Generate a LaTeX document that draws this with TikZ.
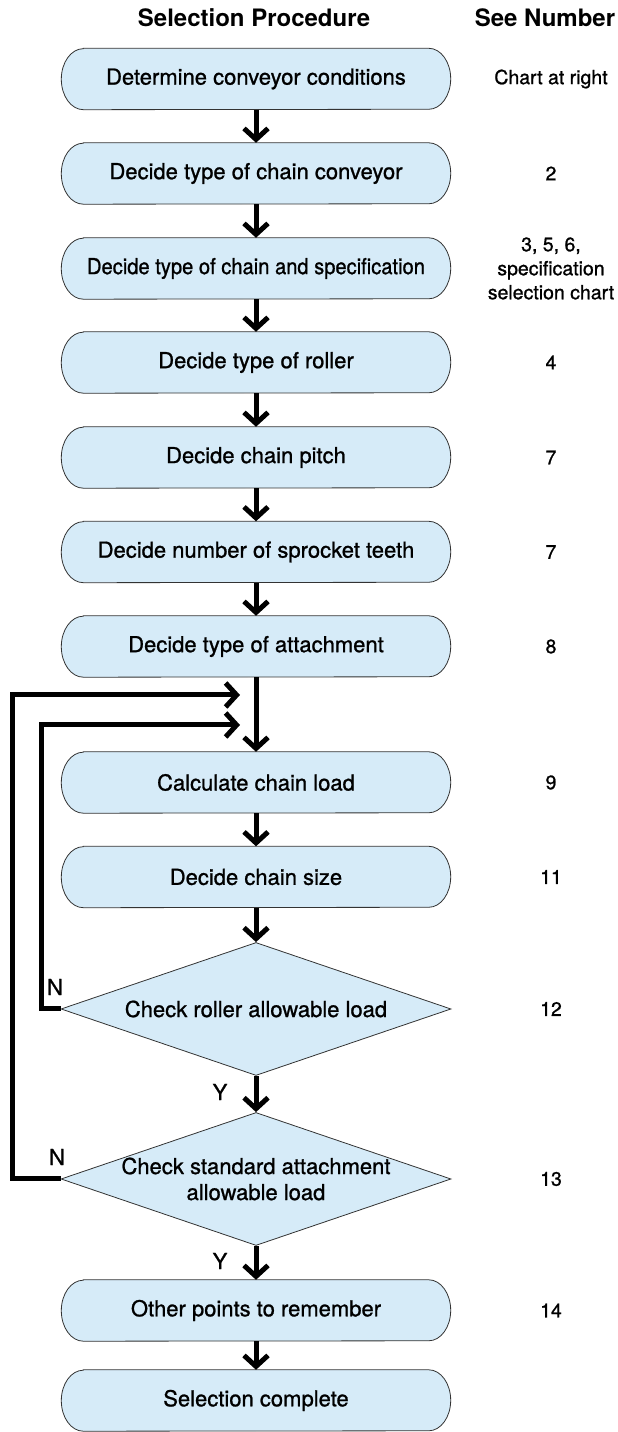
\documentclass[tikz,border=0pt]{standalone}
\usepackage{fontspec}
\setmainfont{TeX Gyre Heros}
\newfontfamily\medfont[FakeBold=1.0]{TeX Gyre Heros}
\usetikzlibrary{shapes.geometric,arrows.meta,backgrounds}

\begin{document}
\begin{tikzpicture}[x=1pt,y=1pt,
  procbox/.style={minimum width=389pt,minimum height=61pt,inner sep=0pt,font=\medfont\fontsize{22}{26}\selectfont},
  checkbox/.style={draw=lineColor,fill=boxColor,line width=0.8pt,diamond,aspect=2.93,
    minimum width=390pt,minimum height=133pt,inner xsep=-8pt,inner ysep=0pt,align=center,font=\medfont\fontsize{22}{26}\selectfont},
  headtext/.style={font=\bfseries\fontsize{24}{28}\selectfont},
  seeno/.style={align=center,font=\medfont\fontsize{19.5}{24}\selectfont},
  yntext/.style={font=\medfont\fontsize{22}{26}\selectfont},
  flow/.style={line width=5pt,-{Straight Barb[length=11pt,width=24pt]}},
  loopline/.style={line width=5pt,line join=miter,-{Straight Barb[length=11pt,width=24pt]}}]
\definecolor{boxColor}{RGB}{214,235,248}
\definecolor{lineColor}{gray}{0.2}
\path[use as bounding box] (0,0) rectangle (618,1432);

% column heads
\node[headtext] (headproc) at (254,1414) {Selection Procedure};
\node[headtext] (headsee) at (545,1414) {See Number};

% procedure boxes
\node[procbox] (cond) at (256,1353) {Determine conveyor conditions};
\node[procbox] (conv) at (256,1258.5) {Decide type of chain conveyor};
\node[procbox] (spec) at (256,1163.5) {\scalebox{0.915}[1]{Decide type of chain and specification}};
\node[procbox] (roll) at (256,1069.5) {Decide type of roller};
\node[procbox] (pitch) at (256,974.5) {Decide chain pitch};
\node[procbox] (teeth) at (256,880) {Decide number of sprocket teeth};
\node[procbox] (att) at (256,785.5) {Decide type of attachment};
\node[procbox] (load) at (256,649.5) {Calculate chain load};
\node[procbox] (size) at (256,555) {Decide chain size};
\node[checkbox] (chkroll) at (256,423) {Check roller allowable load};
\node[checkbox] (chkatt) at (256,253) {Check standard attachment\\allowable load};
\node[procbox] (other) at (256,121.5) {Other points to remember};
\node[procbox] (done) at (256,31.5) {Selection complete};

% box outlines with elliptic ends
\begin{pgfonlayer}{background}
\foreach \b in {cond,conv,spec,roll,pitch,teeth,att,load,size,other,done}
  \draw[draw=lineColor,fill=boxColor,line width=0.8pt]
    ([xshift=22pt]\b.north west) -- ([xshift=-22pt]\b.north east)
    arc[start angle=90,end angle=-90,x radius=22pt,y radius=30.5pt]
    -- ([xshift=22pt]\b.south west)
    arc[start angle=270,end angle=90,x radius=22pt,y radius=30.5pt] -- cycle;
\end{pgfonlayer}

% see numbers
\node[seeno] (seecond) at (551,1353) {Chart at right};
\node[seeno] (seeconv) at (551,1258.5) {2};
\node[seeno] (seespec) at (551,1163.5) {3, 5, 6,\\specification\\selection chart};
\node[seeno] (seeroll) at (551,1069.5) {4};
\node[seeno] (seepitch) at (551,974.5) {7};
\node[seeno] (seeteeth) at (551,880) {7};
\node[seeno] (seeatt) at (551,785.5) {8};
\node[seeno] (seeload) at (551,649.5) {9};
\node[seeno] (seesize) at (551,555) {11};
\node[seeno] (seechkroll) at (551,423) {12};
\node[seeno] (seechkatt) at (551,253) {13};
\node[seeno] (seeother) at (551,121.5) {14};

% main flow
\draw[flow] (cond) -- (conv);
\draw[flow] (conv) -- (spec);
\draw[flow] (spec) -- (roll);
\draw[flow] (roll) -- (pitch);
\draw[flow] (pitch) -- (teeth);
\draw[flow] (teeth) -- (att);
\draw[flow] (att) -- (load);
\draw[flow] (load) -- (size);
\draw[flow] (size) -- (chkroll);
\draw[flow] (chkroll) -- (chkatt);
\draw[flow] (chkatt) -- (other);
\draw[flow] (other) -- (done);

% N loops
\coordinate (innerup) at (41,707);
\coordinate (innerend) at (240,707);
\coordinate (outerup) at (12,737);
\coordinate (outerend) at (240,737);
\draw[loopline] (chkroll.west) -| (innerup) -- (innerend);
\draw[loopline] (chkatt.west) -| (outerup) -- (outerend);

\node[yntext] (nroll) at (55,445) {N};
\node[yntext] (natt) at (57,275) {N};
\node[yntext] (yroll) at (220,340) {Y};
\node[yntext] (yatt) at (220,171) {Y};
\end{tikzpicture}
\end{document}
